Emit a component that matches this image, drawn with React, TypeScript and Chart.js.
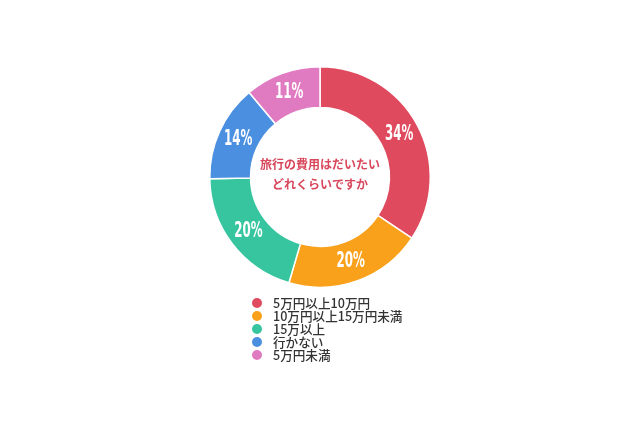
import { useEffect, useRef } from "react";
import { Chart, registerables } from "chart.js";

Chart.register(...registerables);

const categories = ["5万円以上10万円", "10万円以上15万円未満", "15万以上", "行かない", "5万円未満"];
const shares = [34, 20, 20, 14, 11];
const colors = ["#e04a5e", "#f9a11b", "#36c59f", "#4b8fe1", "#e07ac1"];
const centerLines = ["旅行の費用はだいたい", "どれくらいですか"];

const jpFont = '"Noto Sans CJK JP", "Noto Sans", sans-serif';

// percent labels on each slice + question text in the hole
const sliceLabels = {
  id: "sliceLabels",
  afterDatasetsDraw(chart: Chart) {
    const { ctx } = chart;
    const meta = chart.getDatasetMeta(0);
    ctx.save();
    ctx.textAlign = "center";
    ctx.textBaseline = "middle";
    ctx.fillStyle = "#ffffff";
    meta.data.forEach((arc, i) => {
      const p = arc.tooltipPosition(false);
      ctx.save();
      ctx.translate(p.x, p.y);
      ctx.scale(0.6, 1);
      ctx.font = 'bold 22px "DejaVu Sans Condensed", "DejaVu Sans", sans-serif';
      ctx.fillText(shares[i] + "%", 0, 0);
      ctx.restore();
    });
    const first = meta.data[0] as any;
    ctx.fillStyle = "#d8475b";
    ctx.font = "bold 12px " + jpFont;
    ctx.fillText(centerLines[0], first.x, first.y - 13);
    ctx.fillText(centerLines[1], first.x, first.y + 7);
    ctx.restore();
  },
};

function Donut() {
  const canvasRef = useRef<HTMLCanvasElement>(null);
  const chartRef = useRef<Chart | null>(null);

  useEffect(() => {
    if (!canvasRef.current) return;
    chartRef.current?.destroy();
    chartRef.current = new Chart(canvasRef.current, {
      type: "doughnut",
      data: {
        labels: categories,
        datasets: [
          {
            data: shares,
            backgroundColor: colors,
            borderColor: "#ffffff",
            borderWidth: 1.5,
          },
        ],
      },
      options: {
        animation: false,
        responsive: true,
        maintainAspectRatio: false,
        cutout: "63%",
        layout: { padding: 9 },
        plugins: { legend: { display: false }, tooltip: { enabled: false } },
      },
      plugins: [sliceLabels],
    });
    return () => chartRef.current?.destroy();
  }, []);

  return (
    <div style={{ position: "absolute", left: 200, top: 57, width: 240, height: 240 }}>
      <canvas ref={canvasRef} />
    </div>
  );
}

export default function App() {
  return (
    <div
      style={{
        position: "fixed",
        left: 0,
        top: 0,
        width: 640,
        height: 426,
        background: "#ffffff",
        overflow: "hidden",
      }}
    >
      <Donut />
      <div
        style={{
          position: "absolute",
          left: 252,
          top: 296,
          fontFamily: jpFont,
          fontSize: 12.6,
          fontWeight: 500,
          lineHeight: "13px",
          color: "#333333",
        }}
      >
        {categories.map((c, i) => (
          <div key={c} style={{ display: "flex", alignItems: "center", whiteSpace: "nowrap" }}>
            <span
              style={{
                display: "inline-block",
                width: 10,
                height: 10,
                borderRadius: "50%",
                background: colors[i],
                marginRight: 11,
              }}
            />
            {c}
          </div>
        ))}
      </div>
    </div>
  );
}
